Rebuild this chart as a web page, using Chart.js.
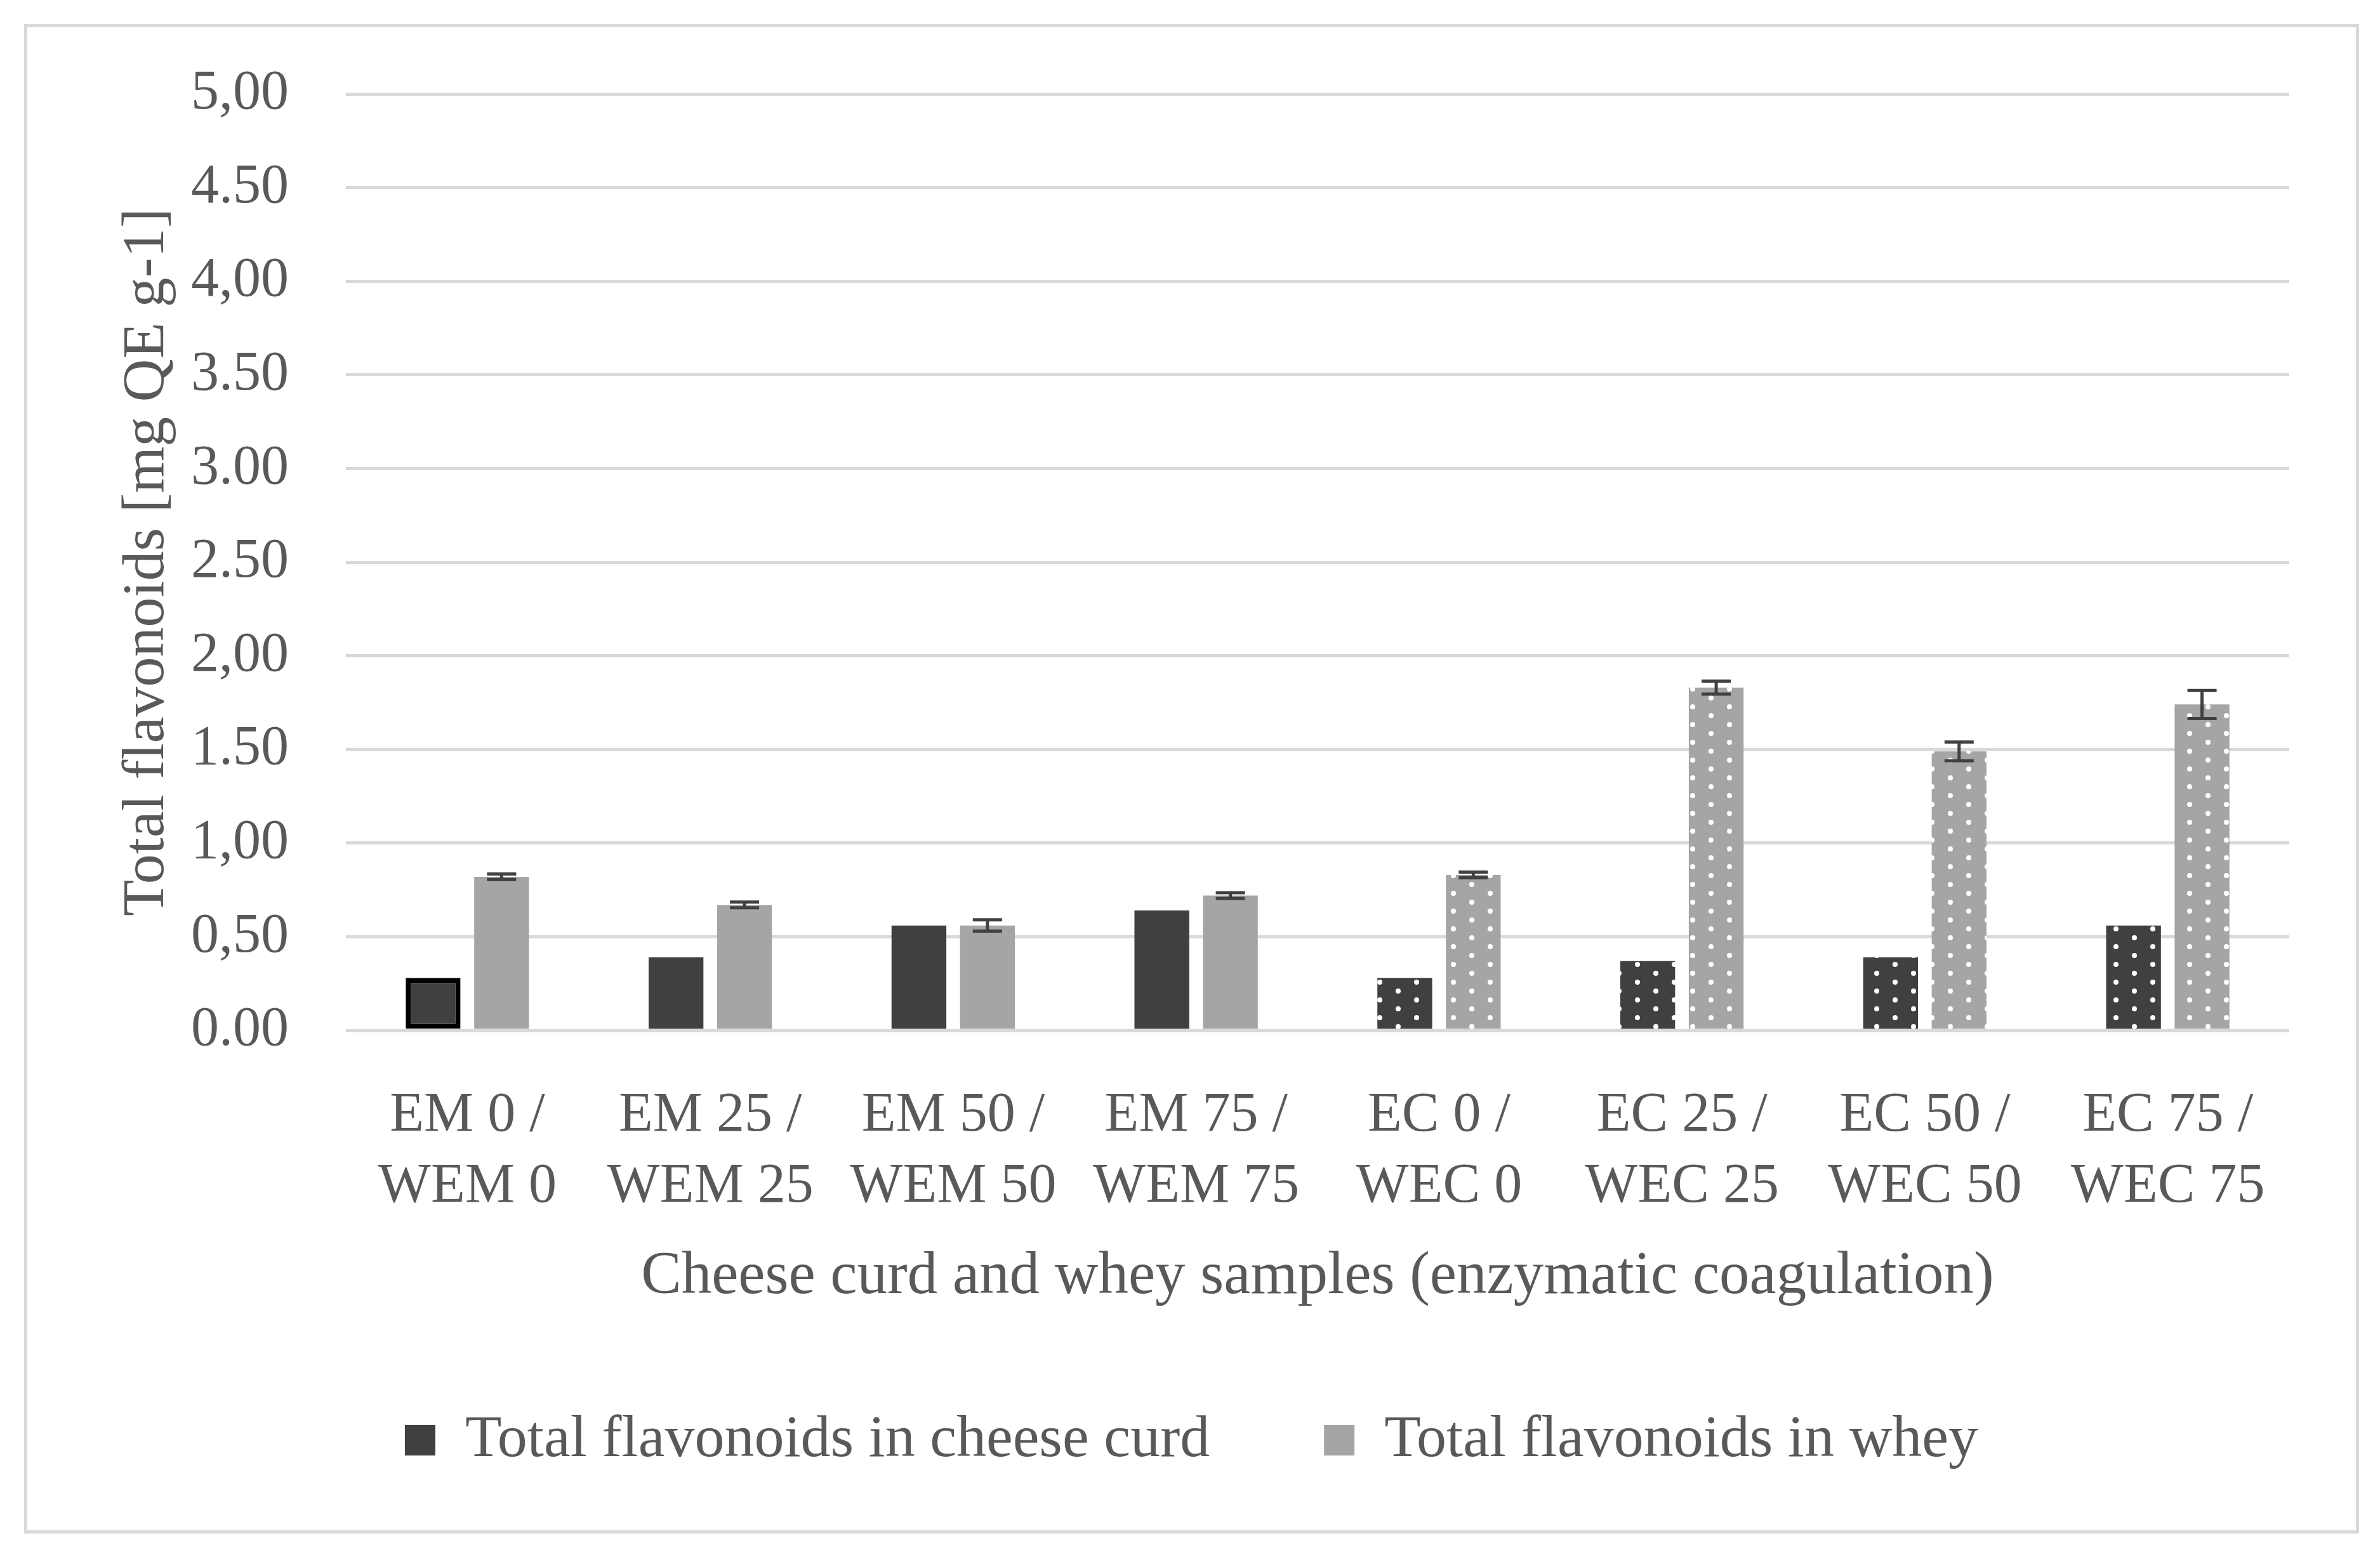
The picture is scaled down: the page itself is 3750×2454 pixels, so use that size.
<!DOCTYPE html>
<html>
<head>
<meta charset="utf-8">
<script src="https://cdn.jsdelivr.net/npm/chart.js@4.4.1/dist/chart.umd.min.js"></script>
<style>
  html, body { margin: 0; padding: 0; background: #ffffff; }
  #frame {
    position: absolute; left: 38px; top: 38px;
    width: 3679px; height: 2379px;
    border: 5px solid #d9d9d9; box-sizing: border-box;
  }
  #wrap { position: relative; width: 100%; height: 100%; }
</style>
</head>
<body>
<div id="frame"><div id="wrap"><canvas id="chart"></canvas></div></div>
<script>
// values
const sampleLabels = [
  ['EM 0 /', 'WEM 0'], ['EM 25 /', 'WEM 25'], ['EM 50 /', 'WEM 50'], ['EM 75 /', 'WEM 75'],
  ['EC 0 /', 'WEC 0'], ['EC 25 /', 'WEC 25'], ['EC 50 /', 'WEC 50'], ['EC 75 /', 'WEC 75']
];
const curdValues = [0.28, 0.39, 0.56, 0.64, 0.28, 0.37, 0.39, 0.56];
const wheyValues = [0.82, 0.67, 0.56, 0.72, 0.83, 1.83, 1.49, 1.74];
const wheyErrors = [0.015, 0.015, 0.03, 0.015, 0.015, 0.035, 0.05, 0.075];
const yTickLabels = ['0.00', '0,50', '1,00', '1.50', '2,00', '2.50', '3.00', '3.50', '4,00', '4.50', '5,00'];
const seriesNames = ['Total flavonoids in cheese curd', 'Total flavonoids in whey'];

const textColor = '#595959';
const fontFamily = '"Liberation Serif", "DejaVu Serif", serif';
const curdColor = '#404040';
const wheyColor = '#a5a5a5';

const canvas = document.getElementById('chart');
const ctx = canvas.getContext('2d');

function dotPattern(bg) {
  const tile = document.createElement('canvas');
  tile.width = 58;
  tile.height = 28;
  const g = tile.getContext('2d');
  g.fillStyle = bg;
  g.fillRect(0, 0, 58, 28);
  g.fillStyle = '#ffffff';
  [[14, 7], [43, 21]].forEach(p => {
    g.beginPath();
    g.arc(p[0], p[1], 4, 0, Math.PI * 2);
    g.fill();
  });
  return ctx.createPattern(tile, 'repeat');
}

const curdDots = dotPattern(curdColor);
const wheyDots = dotPattern(wheyColor);
// EM samples plain, EC samples dotted
const curdFill = sampleLabels.map((l, i) => i < 4 ? curdColor : curdDots);
const wheyFill = sampleLabels.map((l, i) => i < 4 ? wheyColor : wheyDots);
const curdBorder = sampleLabels.map((l, i) => i === 0 ? 8 : 0);

const errorBars = {
  id: 'errorBars',
  afterDatasetsDraw(chart) {
    const c = chart.ctx;
    const yScale = chart.scales.y;
    const meta = chart.getDatasetMeta(1);
    c.save();
    c.strokeStyle = '#404040';
    c.lineWidth = 5;
    meta.data.forEach((bar, i) => {
      const top = yScale.getPixelForValue(wheyValues[i] + wheyErrors[i]);
      const bottom = yScale.getPixelForValue(wheyValues[i] - wheyErrors[i]);
      c.beginPath();
      c.moveTo(bar.x, top); c.lineTo(bar.x, bottom);
      c.moveTo(bar.x - 23, top); c.lineTo(bar.x + 23, top);
      c.moveTo(bar.x - 23, bottom); c.lineTo(bar.x + 23, bottom);
      c.stroke();
    });
    c.restore();
  }
};

new Chart(canvas, {
  type: 'bar',
  data: {
    labels: sampleLabels,
    datasets: [
      {
        label: seriesNames[0],
        data: curdValues,
        backgroundColor: curdFill,
        borderColor: '#000000',
        borderWidth: curdBorder,
        borderSkipped: false
      },
      {
        label: seriesNames[1],
        data: wheyValues,
        backgroundColor: wheyFill,
        borderWidth: 0
      }
    ]
  },
  options: {
    responsive: true,
    maintainAspectRatio: false,
    animation: false,
    categoryPercentage: 0.564,
    barPercentage: 0.8,
    layout: { padding: { top: 105, left: 0, right: 0, bottom: 85 } },
    plugins: {
      tooltip: { enabled: false },
      legend: {
        position: 'bottom',
        labels: {
          color: textColor,
          font: { family: fontFamily, size: 94 },
          boxWidth: 48,
          boxHeight: 48,
          padding: 180,
          generateLabels: chart => chart.data.datasets.map((ds, i) => ({
            text: ds.label,
            fillStyle: i === 0 ? curdColor : wheyColor,
            strokeStyle: i === 0 ? curdColor : wheyColor,
            lineWidth: 0,
            fontColor: textColor,
            hidden: false,
            datasetIndex: i
          }))
        }
      }
    },
    scales: {
      x: {
        grid: { display: false },
        border: { display: false },
        ticks: {
          color: textColor,
          padding: 71,
          maxRotation: 0,
          font: { family: fontFamily, size: 88, lineHeight: 1.27 }
        },
        title: {
          display: true,
          text: 'Cheese curd and whey samples (enzymatic coagulation)',
          color: textColor,
          font: { family: fontFamily, size: 95 },
          padding: { top: 0, bottom: -27 }
        },
        afterFit(scale) { scale.height = 419; }
      },
      y: {
        min: 0,
        max: 5,
        grid: { color: '#d9d9d9', lineWidth: 5, drawTicks: false },
        border: { display: false },
        ticks: {
          stepSize: 0.5,
          padding: 90,
          color: textColor,
          font: { family: fontFamily, size: 88 },
          callback: (value, index) => yTickLabels[index]
        },
        title: {
          display: true,
          text: 'Total flavonoids [mg QE g-1]',
          color: textColor,
          font: { family: fontFamily, size: 94 },
          padding: { top: 133, bottom: 0 }
        },
        afterFit(scale) {
          scale.width = 502;
          scale.paddingTop = 0;
          scale.paddingBottom = 0;
        }
      },
      y2: {
        position: 'right',
        grid: { display: false },
        border: { display: false },
        ticks: { display: false },
        afterFit(scale) { scale.width = 105; }
      }
    }
  },
  plugins: [errorBars]
});
</script>
</body>
</html>
